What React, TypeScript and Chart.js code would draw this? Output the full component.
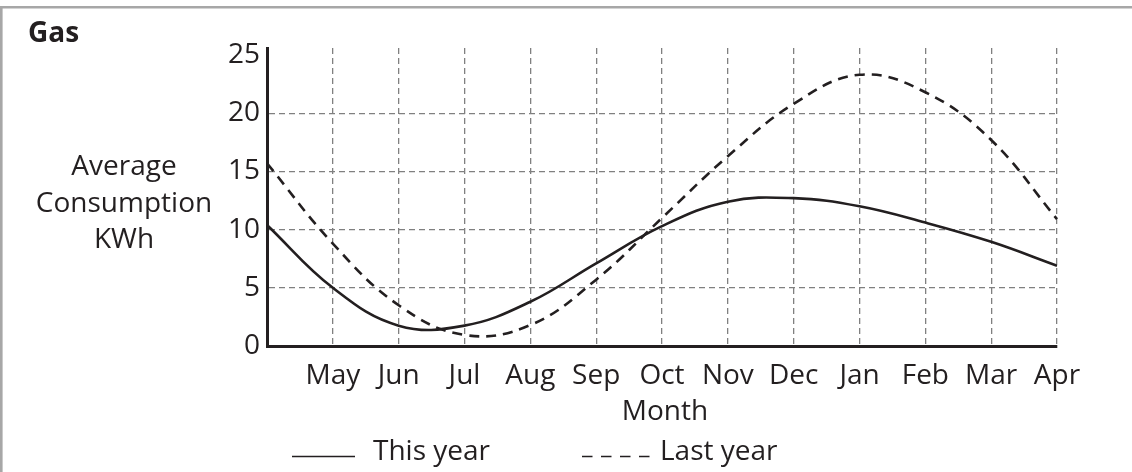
import { useEffect, useRef } from 'react';
import { Chart, registerables } from 'chart.js';

Chart.register(...registerables);

const months = ['', 'May', 'Jun', 'Jul', 'Aug', 'Sep', 'Oct', 'Nov', 'Dec', 'Jan', 'Feb', 'Mar', 'Apr'];
const thisYear = [10.4, 5.0, 1.75, 1.75, 3.8, 7.1, 10.3, 12.4, 12.7, 12.0, 10.6, 8.95, 6.9];
const lastYear = [15.7, 8.8, 3.5, 0.95, 1.8, 5.7, 11.0, 16.3, 20.8, 23.3, 21.8, 17.7, 10.9];
const yTicks = [0, 5, 10, 15, 20, 25];
const seriesNames = ['This year', 'Last year'];
const chartTitle = 'Gas';
const yTitleLines = ['Average', 'Consumption', 'KWh'];
const xTitle = 'Month';

const FONT = '"Open Sans", "Noto Sans", sans-serif';
const INK = '#231f20';
const GRID = '#808080';

export default function App() {
  const ref = useRef<HTMLCanvasElement>(null);

  useEffect(() => {
    document.body.style.margin = '0';
    const canvas = ref.current;
    if (!canvas) return;

    const decor = {
      id: 'decor',
      afterDraw(chart: any) {
        const ctx = chart.ctx as CanvasRenderingContext2D;
        const area = chart.chartArea;
        ctx.save();
        // outer frame (top and left)
        ctx.strokeStyle = '#a7a7a7';
        ctx.lineWidth = 2.6;
        ctx.setLineDash([]);
        ctx.beginPath();
        ctx.moveTo(1.3, chart.height);
        ctx.lineTo(1.3, 7.3);
        ctx.lineTo(chart.width, 7.3);
        ctx.stroke();

        ctx.fillStyle = INK;
        ctx.textBaseline = 'alphabetic';
        // title
        ctx.font = `bold 28px ${FONT}`;
        ctx.textAlign = 'left';
        ctx.fillText(chartTitle, 28, 42);
        // y-axis title, horizontal, three lines
        ctx.font = `28px ${FONT}`;
        ctx.textAlign = 'center';
        yTitleLines.forEach((t, i) => ctx.fillText(t, 124, 175 + i * 36.5));
        // x-axis title
        ctx.fillText(xTitle, (area.left + area.right) / 2 + 3, 420);

        // legend
        ctx.strokeStyle = INK;
        ctx.lineWidth = 1.6;
        ctx.beginPath();
        ctx.moveTo(292, 456.5);
        ctx.lineTo(355, 456.5);
        ctx.stroke();
        ctx.setLineDash([10.5, 8.5]);
        ctx.beginPath();
        ctx.moveTo(582, 456.5);
        ctx.lineTo(650, 456.5);
        ctx.stroke();
        ctx.setLineDash([]);
        ctx.textAlign = 'left';
        ctx.fillText(seriesNames[0], 373, 460);
        ctx.fillText(seriesNames[1], 660, 460);
        ctx.restore();
      },
    };

    const chart = new Chart(canvas, {
      type: 'line',
      data: {
        labels: months,
        datasets: [
          {
            label: seriesNames[0],
            data: thisYear,
            borderColor: INK,
            borderWidth: 2.6,
            pointRadius: 0,
            tension: 0.4,
            fill: false,
          },
          {
            label: seriesNames[1],
            data: lastYear,
            borderColor: INK,
            borderWidth: 2.6,
            borderDash: [10, 7],
            pointRadius: 0,
            tension: 0.4,
            fill: false,
          },
        ],
      },
      options: {
        animation: false,
        responsive: false,
        events: [],
        layout: { padding: { left: 0, right: 75, top: 48, bottom: 0 } },
        plugins: {
          legend: { display: false },
          tooltip: { enabled: false },
          title: { display: false },
        },
        scales: {
          x: {
            type: 'category',
            offset: false,
            afterFit: (s: any) => {
              s.height = 126;
            },
            grid: {
              color: (c: any) => (c.index === 0 ? 'rgba(0,0,0,0)' : GRID),
              lineWidth: 1.3,
              drawTicks: false,
            },
            border: { color: INK, width: 3, dash: [6, 4] },
            ticks: {
              color: INK,
              font: { family: FONT, size: 28 },
              padding: 13,
              maxRotation: 0,
              autoSkip: false,
            },
            title: { display: false },
          },
          y: {
            type: 'linear',
            min: 0,
            max: 25.6,
            afterBuildTicks: (s: any) => {
              s.ticks = yTicks.map((v) => ({ value: v }));
            },
            afterFit: (s: any) => {
              s.width = 267;
            },
            grid: {
              color: (c: any) =>
                c.tick && (c.tick.value === 0 || c.tick.value === 25) ? 'rgba(0,0,0,0)' : GRID,
              lineWidth: 1.3,
              drawTicks: false,
            },
            border: { color: INK, width: 3, dash: [6, 4] },
            ticks: {
              color: INK,
              font: { family: FONT, size: 28 },
              padding: 7,
            },
          },
        },
      },
      plugins: [decor],
    });

    return () => chart.destroy();
  }, []);

  return <canvas ref={ref} width={1132} height={472} style={{ display: 'block', width: 1132, height: 472 }} />;
}
